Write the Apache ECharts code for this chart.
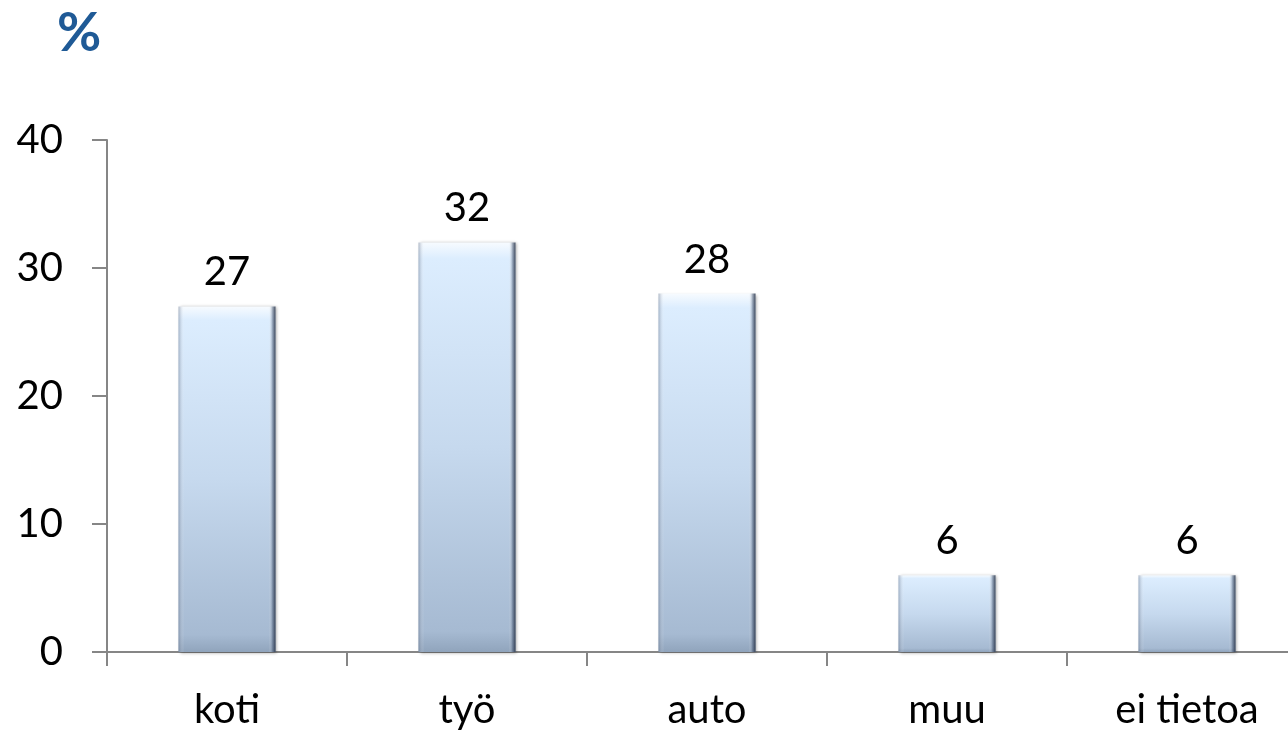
<!DOCTYPE html>
<html>
<head>
<meta charset="utf-8">
<script src="https://cdn.jsdelivr.net/npm/echarts@6/dist/echarts.min.js"></script>
<style>
  html, body { margin: 0; padding: 0; background: #fff; }
  #main { width: 1288px; height: 739px; }
</style>
</head>
<body>
<div id="main"></div>
<script>
// data
var categories = ['koti', 'työ', 'auto', 'muu', 'ei tietoa'];
var values = [27, 32, 28, 6, 6];
var yTicks = [0, 10, 20, 30, 40];

var chart = echarts.init(document.getElementById('main'));

var option = {
  animation: false,
  textStyle: { fontFamily: 'Lato' },
  title: {
    text: '%',
    left: 52,
    top: 2,
    textStyle: { color: '#1f5a96', fontSize: 54, fontWeight: 'bold', fontFamily: 'Lato' }
  },
  // the last category runs past the right edge, as in the original
  grid: { left: 107, top: 140, width: 1200, height: 512, outerBoundsMode: 'none', containLabel: false },
  xAxis: {
    type: 'category',
    data: categories,
    axisLine: { lineStyle: { color: '#868686', width: 2 } },
    axisTick: { show: true, length: 14, lineStyle: { color: '#868686', width: 2 } },
    axisLabel: { color: '#000', fontSize: 40, margin: 38, interval: 0 }
  },
  yAxis: {
    type: 'value',
    min: yTicks[0],
    max: yTicks[yTicks.length - 1],
    interval: 10,
    splitLine: { show: false },
    axisLine: { show: true, lineStyle: { color: '#868686', width: 2 } },
    axisTick: { show: true, length: 15, lineStyle: { color: '#868686', width: 2 } },
    axisLabel: { color: '#000', fontSize: 40, margin: 44 }
  },
  series: [
    {
      type: 'bar',
      data: values,
      barWidth: 97,
      itemStyle: {
        color: new echarts.graphic.LinearGradient(0, 0, 0, 1, [
          { offset: 0, color: '#f7fbff' },
          { offset: 0.04, color: '#dcedfe' },
          { offset: 0.5, color: '#c6d9ee' },
          { offset: 0.95, color: '#a6bad2' },
          { offset: 1, color: '#90a4bc' }
        ]),
        shadowColor: 'rgba(0,0,0,0.35)',
        shadowBlur: 3,
        shadowOffsetX: 1,
        shadowOffsetY: 1
      },
      label: {
        show: true,
        position: 'top',
        distance: 14,
        color: '#000',
        fontSize: 40
      }
    },
    {
      // side bevel shading of the bars
      type: 'bar',
      data: values,
      barWidth: 97,
      barGap: '-100%',
      silent: true,
      itemStyle: {
        color: new echarts.graphic.LinearGradient(0, 0, 1, 0, [
          { offset: 0, color: 'rgba(90,105,130,0.45)' },
          { offset: 0.06, color: 'rgba(255,255,255,0)' },
          { offset: 0.93, color: 'rgba(255,255,255,0)' },
          { offset: 0.97, color: 'rgba(70,85,110,0.5)' },
          { offset: 1, color: 'rgba(40,50,70,0.9)' }
        ])
      }
    }
  ]
};

chart.setOption(option);
window.onresize = chart.resize;
</script>
</body>
</html>
